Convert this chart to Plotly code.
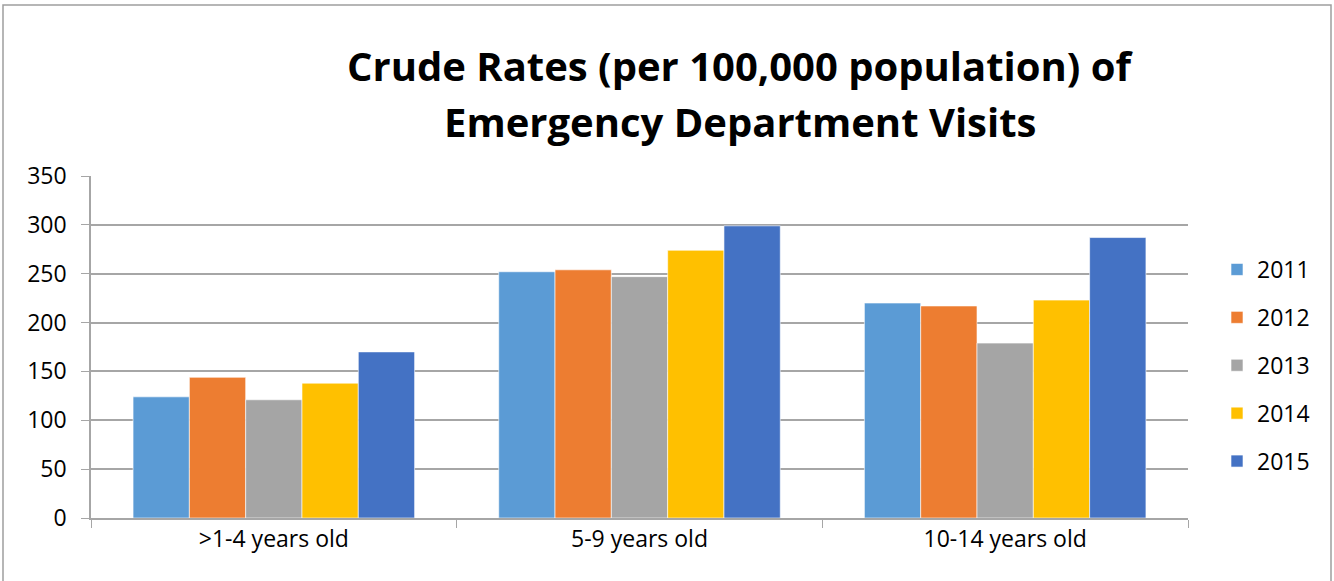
import plotly.graph_objects as go

categories = [">1-4 years old", "5-9 years old", "10-14 years old"]
years = ["2011", "2012", "2013", "2014", "2015"]
rates_2011 = [124, 252, 220]
rates_2012 = [144, 254, 217]
rates_2013 = [121, 247, 179]
rates_2014 = [138, 274, 223]
rates_2015 = [170, 299, 287]
series = [rates_2011, rates_2012, rates_2013, rates_2014, rates_2015]
colors = ["#5B9BD5", "#ED7D31", "#A5A5A5", "#FFC000", "#4472C4"]
y_ticks = [0, 50, 100, 150, 200, 250, 300, 350]

W, H = 1334, 581
L, R, T, B = 91, 1188, 176, 518

fig = go.Figure()
for yr, vals, col in zip(years, series, colors):
    fig.add_trace(go.Bar(
        name=yr, x=categories, y=vals, legendgroup=yr,
        marker=dict(color=col, line=dict(color="rgba(255,255,255,0.6)", width=1)),
    ))

font_family = "Open Sans"
fs = 23
fig.update_layout(
    width=W, height=H,
    margin=dict(l=L, r=W - R, t=T, b=H - B, autoexpand=False),
    paper_bgcolor="white", plot_bgcolor="white",
    barmode="group", bargap=0.23, bargroupgap=0,
    font=dict(family=font_family, size=fs, color="black"),
    showlegend=True,
    legend=dict(
        xref="container", yref="container",
        x=1217 / W, y=1 - 248 / H, xanchor="left", yanchor="top",
        font=dict(size=fs), tracegroupgap=15, itemwidth=30,
        bgcolor="rgba(0,0,0,0)",
    ),
    xaxis=dict(
        showline=True, linecolor="#A6A6A6", linewidth=1.5,
        ticks="outside", tickson="boundaries", ticklen=8, tickcolor="#A6A6A6",
        showgrid=False, tickfont=dict(size=fs),
    ),
    yaxis=dict(
        range=[0, 350], tickvals=y_ticks,
        showline=True, linecolor="#A6A6A6", linewidth=1.5,
        ticks="outside", ticklen=8, tickcolor="#A6A6A6",
        showgrid=True, gridcolor="#A6A6A6", gridwidth=1.5,
        zeroline=False, tickfont=dict(size=fs), ticklabelstandoff=10,
    ),
)

pw, ph = R - L, B - T
def px_x(p):
    return (p - L) / pw
def px_y(p):
    return (B - p) / ph

fig.add_shape(type="rect", xref="paper", yref="paper",
              x0=px_x(3), x1=px_x(1331), y0=px_y(640), y1=px_y(5),
              line=dict(color="#9E9E9E", width=1.5), fillcolor="rgba(0,0,0,0)", layer="below")

title_lines = ["Crude Rates (per 100,000 population) of", "Emergency Department Visits"]
for line, ypix in zip(title_lines, [66, 122]):
    fig.add_annotation(text="<b>" + line + "</b>", xref="paper", yref="paper",
                       x=px_x(740), y=px_y(ypix), xanchor="center", yanchor="middle",
                       showarrow=False, font=dict(size=40, family=font_family, color="black"))

fig.write_html(
    "out.html",
    config={"displayModeBar": False},
    post_script="document.body.style.margin='0';document.body.style.overflow='hidden';",
)
